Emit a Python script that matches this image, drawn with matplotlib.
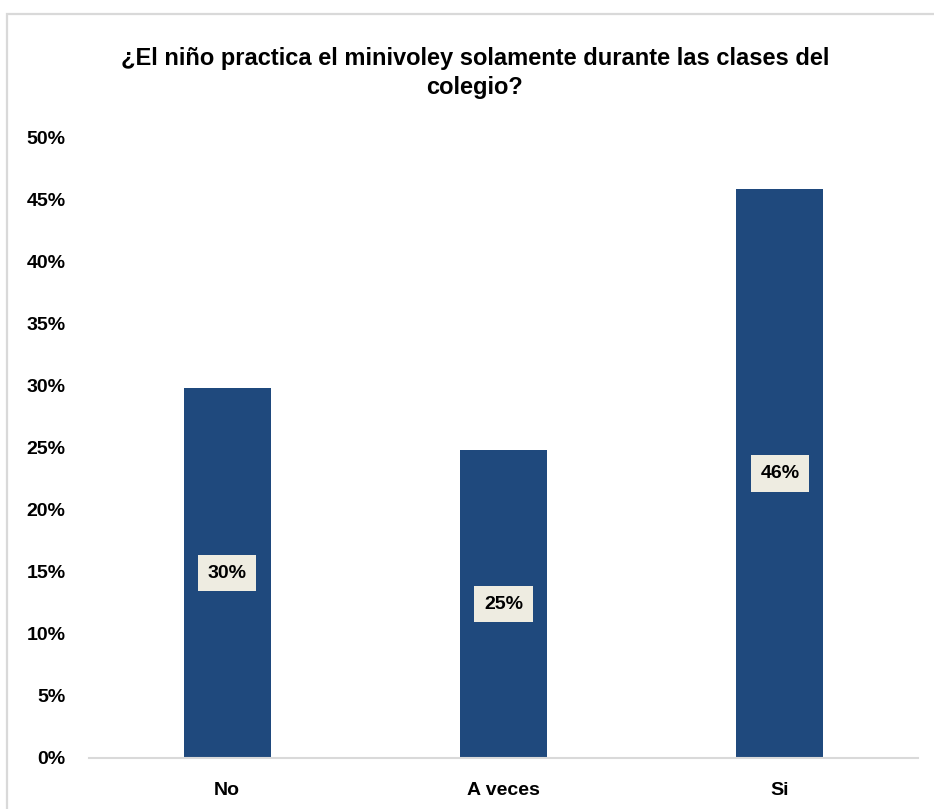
import matplotlib.pyplot as plt
from matplotlib.patches import Rectangle

categorias = ["No", "A veces", "Si"]
valores = [29.8, 24.8, 45.9]
etiquetas = ["30%", "25%", "46%"]
ticks_y = [0, 5, 10, 15, 20, 25, 30, 35, 40, 45, 50]

plt.rcParams['font.family'] = ['Liberation Sans', 'DejaVu Sans']

fig = plt.figure(figsize=(9.34, 8.09), dpi=100)

# marco gris del grafico
fig.patches.append(Rectangle((6.5 / 934, -0.1), 1.2, 1 - 13.5 / 809 + 0.1,
                             transform=fig.transFigure, fill=False,
                             edgecolor='#D9D9D9', linewidth=1.6))

ax = fig.add_axes([89 / 934, 1 - 758 / 809, (918 - 89) / 934, (758 - 138) / 809])

x = range(len(categorias))
bars = ax.bar(x, valores, width=0.315, color='#1F497D')

for b, v, t in zip(bars, valores, etiquetas):
    ax.text(b.get_x() + b.get_width() / 2, v / 2, t, ha='center', va='center',
            fontsize=14, fontweight='bold', color='black',
            bbox=dict(boxstyle='square,pad=0.5', fc='#EEECE1', ec='none'))

ax.set_xlim(-0.5, 2.5)
ax.set_ylim(0, 50)
ax.set_yticks(ticks_y)
ax.set_yticklabels([str(t) + "%" for t in ticks_y], fontsize=14, fontweight='bold')
ax.set_xticks(list(x))
ax.set_xticklabels(categorias, fontsize=14, fontweight='bold')
ax.tick_params(axis='both', length=0)
ax.tick_params(axis='y', pad=17)
ax.tick_params(axis='x', pad=17)

for s in ['top', 'right', 'left']:
    ax.spines[s].set_visible(False)
ax.spines['bottom'].set_color('#D9D9D9')
ax.spines['bottom'].set_linewidth(1.5)

fig.text(475 / 934, 1 - 73 / 809,
         "¿El niño practica el minivoley solamente durante las clases del\ncolegio?",
         ha='center', va='center', fontsize=17, fontweight='bold',
         linespacing=1.35)

plt.savefig("out.png", dpi=100)
